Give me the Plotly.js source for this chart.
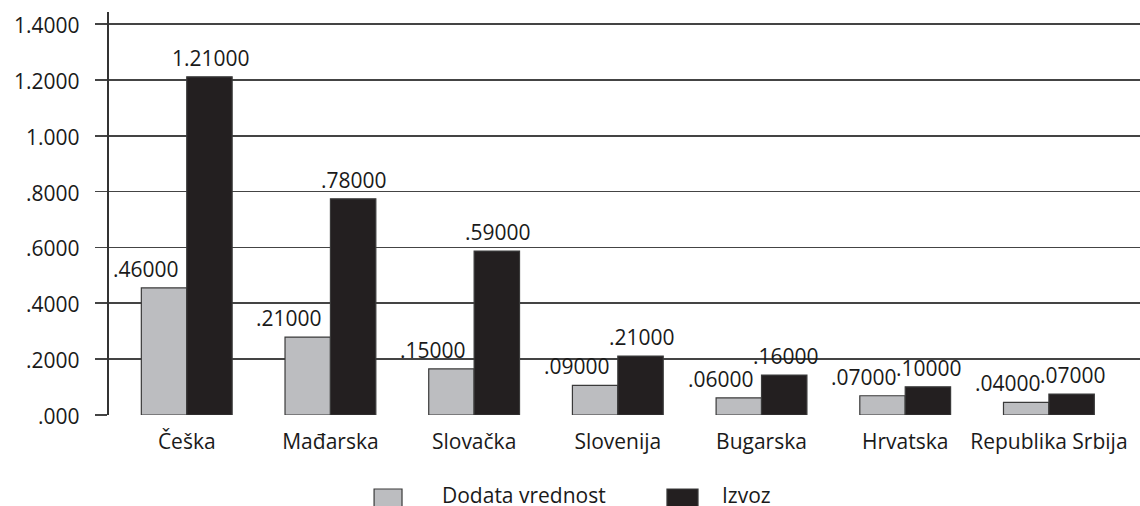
<!DOCTYPE html>
<html>
<head>
<meta charset="utf-8">
<script src="https://cdn.plot.ly/plotly-3.0.1.min.js"></script>
<style>html,body{margin:0;padding:0;background:#fff;}#chart{width:1140px;height:506px;}</style>
</head>
<body>
<div id="chart"></div>
<script>
// ---- data ----
const countries = ["Češka", "Mađarska", "Slovačka", "Slovenija", "Bugarska", "Hrvatska", "Republika Srbija"];
const seriesNames = ["Dodata vrednost", "Izvoz"];
const dodataVrednost = [0.455, 0.279, 0.165, 0.106, 0.061, 0.069, 0.045];
const izvoz = [1.211, 0.774, 0.587, 0.211, 0.143, 0.101, 0.075];
const dodataLabels = [".46000", ".21000", ".15000", ".09000", ".06000", ".07000", ".04000"];
const izvozLabels = ["1.21000", ".78000", ".59000", ".21000", ".16000", ".10000", ".07000"];
const yTickVals = [0, 0.2, 0.4, 0.6, 0.8, 1.0, 1.2, 1.4];
const yTickText = [".000", ".2000", ".4000", ".6000", ".8000", "1.000", "1.2000", "1.4000"];

const greyFill = "#bcbdc0";
const blackFill = "#231f20";
const edge = "#3a3a3a";
const txt = "#1a1a1a";
const FONT = "'Open Sans', 'DejaVu Sans', sans-serif";

const traces = [
  {type: "bar", name: seriesNames[0], x: countries, y: dodataVrednost,
   marker: {color: greyFill, line: {color: edge, width: 1.2}}, hoverinfo: "skip"},
  {type: "bar", name: seriesNames[1], x: countries, y: izvoz,
   marker: {color: blackFill, line: {color: edge, width: 1.2}}, hoverinfo: "skip"}
];

const annotations = [];
countries.forEach((c, i) => {
  annotations.push({x: c, y: dodataVrednost[i], xref: "x", yref: "y", text: dodataLabels[i],
    showarrow: false, xanchor: "center", yanchor: "bottom", xshift: -41, yshift: 3,
    font: {family: FONT, size: 21, color: txt}});
  annotations.push({x: c, y: izvoz[i], xref: "x", yref: "y", text: izvozLabels[i],
    showarrow: false, xanchor: "center", yanchor: "bottom", xshift: 24, yshift: 3,
    font: {family: FONT, size: 21, color: txt}});
});

// y tick labels placed a little further from the ticks, as in the reference
yTickVals.forEach((v, i) => {
  annotations.push({xref: "paper", yref: "y", x: 0, y: v, text: yTickText[i], showarrow: false,
    xanchor: "right", yanchor: "middle", xshift: -27, yshift: -1,
    font: {family: FONT, size: 21, color: txt}});
});

// custom legend (large swatches as in the reference)
const legendItems = [
  {name: seriesNames[0], fill: greyFill, x0: 0.2571, x1: 0.2842, tx: 0.3215},
  {name: seriesNames[1], fill: blackFill, x0: 0.5412, x1: 0.5713, tx: 0.5926}
];
const shapes = [];
legendItems.forEach(it => {
  shapes.push({type: "rect", xref: "paper", yref: "paper", x0: it.x0, x1: it.x1, y0: -0.30, y1: -0.1836,
    fillcolor: it.fill, line: {color: edge, width: 1.2}});
  annotations.push({xref: "paper", yref: "paper", x: it.tx, y: -0.199, text: it.name, showarrow: false,
    xanchor: "left", yanchor: "middle", font: {family: FONT, size: 21, color: txt}});
});

const layout = {
  width: 1140, height: 506,
  margin: {l: 109, r: 0, t: 12, b: 91, pad: 0},
  paper_bgcolor: "#fff", plot_bgcolor: "#fff",
  showlegend: false,
  barmode: "group", bargap: 0.368, bargroupgap: 0,
  font: {family: FONT, size: 21, color: txt},
  xaxis: {
    type: "category", range: [-0.541, 6.634], showgrid: false, zeroline: false,
    showline: false, ticks: "", ticklabelstandoff: 12,
    tickfont: {family: FONT, size: 21, color: txt}, fixedrange: true
  },
  yaxis: {
    range: [0, 1.443], tickvals: yTickVals, showticklabels: false,
    showgrid: true, gridcolor: "#444", gridwidth: 1.6, zeroline: false,
    showline: true, linecolor: "#333", linewidth: 2,
    ticks: "outside", ticklen: 12, tickwidth: 1.6, tickcolor: "#444",
    fixedrange: true
  },
  annotations: annotations,
  shapes: shapes
};

Plotly.newPlot("chart", traces, layout, {displayModeBar: false, staticPlot: true});
</script>
</body>
</html>
